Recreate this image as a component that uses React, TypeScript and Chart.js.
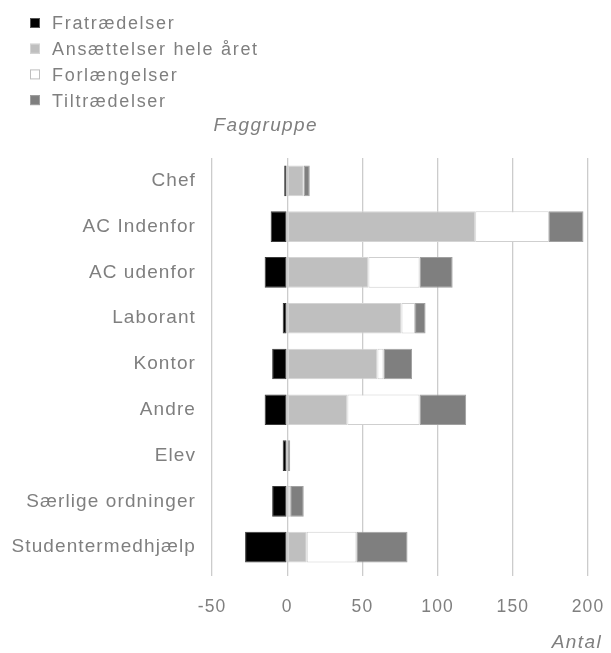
import React, { useEffect, useRef } from "react";
import { Chart, registerables } from "chart.js";
Chart.register(...registerables);

const categories = [
  "Chef",
  "AC Indenfor",
  "AC udenfor",
  "Laborant",
  "Kontor",
  "Andre",
  "Elev",
  "Særlige ordninger",
  "Studentermedhjælp",
];
const seriesNames = ["Fratrædelser", "Ansættelser hele året", "Forlængelser", "Tiltrædelser"];
const fratraedelser = [-2, -11, -15, -3, -10, -15, -3, -10, -28];
const ansaettelser = [11, 125, 54, 76, 60, 40, 0, 0, 13];
const forlaengelser = [0, 49, 34, 9, 4, 48, 0, 2, 33];
const tiltraedelser = [4, 23, 22, 7, 19, 31, 2, 9, 34];
const xMin = -50;
const xMax = 200;
const xStep = 50;
const yTitle = "Faggruppe";
const xTitle = "Antal";

const FONT = '"Liberation Sans", Arial, sans-serif';
const TEXT = "#7f7f7f";

const spacing = {
  id: "spacing",
  beforeLayout(chart: any) {
    chart.ctx.letterSpacing = "1.1px";
  },
  beforeDraw(chart: any) {
    chart.ctx.letterSpacing = "1.1px";
  },
};

const overlay = {
  id: "overlay",
  afterDraw(chart: any) {
    const ctx = chart.ctx;
    ctx.save();
    ctx.textBaseline = "middle";
    ctx.font = `18px ${FONT}`;
    ctx.letterSpacing = "1.7px";
    chart.data.datasets.forEach((ds: any, i: number) => {
      const y = 15 + i * 25.7;
      ctx.fillStyle = ds.backgroundColor;
      ctx.fillRect(22, y - 5, 10, 10);
      ctx.strokeStyle = ds.legendBorder;
      ctx.lineWidth = 1;
      ctx.strokeRect(22.5, y - 4.5, 9, 9);
      ctx.fillStyle = TEXT;
      ctx.textAlign = "left";
      ctx.fillText(ds.label, 44, y + 1.5);
    });
    ctx.font = `italic 19px ${FONT}`;
    ctx.letterSpacing = "1.4px";
    ctx.textAlign = "right";
    ctx.fillStyle = TEXT;
    ctx.fillText(yTitle, 310, 118);
    ctx.fillText(xTitle, 594, 635);
    ctx.restore();
  },
};

export default function App() {
  const ref = useRef<HTMLCanvasElement>(null);
  useEffect(() => {
    if (!ref.current) return;
    const chart = new Chart(ref.current, {
      type: "bar",
      data: {
        labels: categories,
        datasets: [
          { label: seriesNames[0], data: fratraedelser, backgroundColor: "#000000", borderColor: "#3a3a3a", legendBorder: "#555555" } as any,
          { label: seriesNames[1], data: ansaettelser, backgroundColor: "#bfbfbf", borderColor: "#d4d4d4", legendBorder: "#d4d4d4" } as any,
          { label: seriesNames[2], data: forlaengelser, backgroundColor: "#ffffff", borderColor: "#cfcfcf", legendBorder: "#bfbfbf" } as any,
          { label: seriesNames[3], data: tiltraedelser, backgroundColor: "#7f7f7f", borderColor: "#a0a0a0", legendBorder: "#a0a0a0" } as any,
        ].map((d: any) => ({ ...d, borderWidth: 1, borderSkipped: false, categoryPercentage: 1, barPercentage: 0.67 })),
      },
      options: {
        indexAxis: "y",
        animation: false,
        responsive: true,
        maintainAspectRatio: false,
        layout: { padding: { top: 150, left: 0, right: 0, bottom: 0 } },
        plugins: { legend: { display: false }, tooltip: { enabled: false } },
        scales: {
          x: {
            stacked: true,
            min: xMin,
            max: xMax,
            ticks: { stepSize: xStep, color: TEXT, font: { family: FONT, size: 17.5 }, padding: 21 },
            grid: { color: "#cccccc", lineWidth: 1.3, tickLength: 6, drawTicks: true },
            border: { display: false },
            afterFit: (s: any) => {
              s.height = 83;
              s.paddingLeft = 0;
              s.paddingRight = 15;
            },
          },
          y: {
            stacked: true,
            ticks: { color: TEXT, font: { family: FONT, size: 19 }, padding: 16 },
            grid: { display: false, drawTicks: false },
            border: { display: false },
            afterFit: (s: any) => {
              s.width = 204;
            },
          },
        },
      },
      plugins: [spacing, overlay],
    } as any);
    return () => chart.destroy();
  }, []);
  return (
    <div style={{ position: "relative", width: "100%", height: "645px" }}>
      <canvas ref={ref} />
    </div>
  );
}
